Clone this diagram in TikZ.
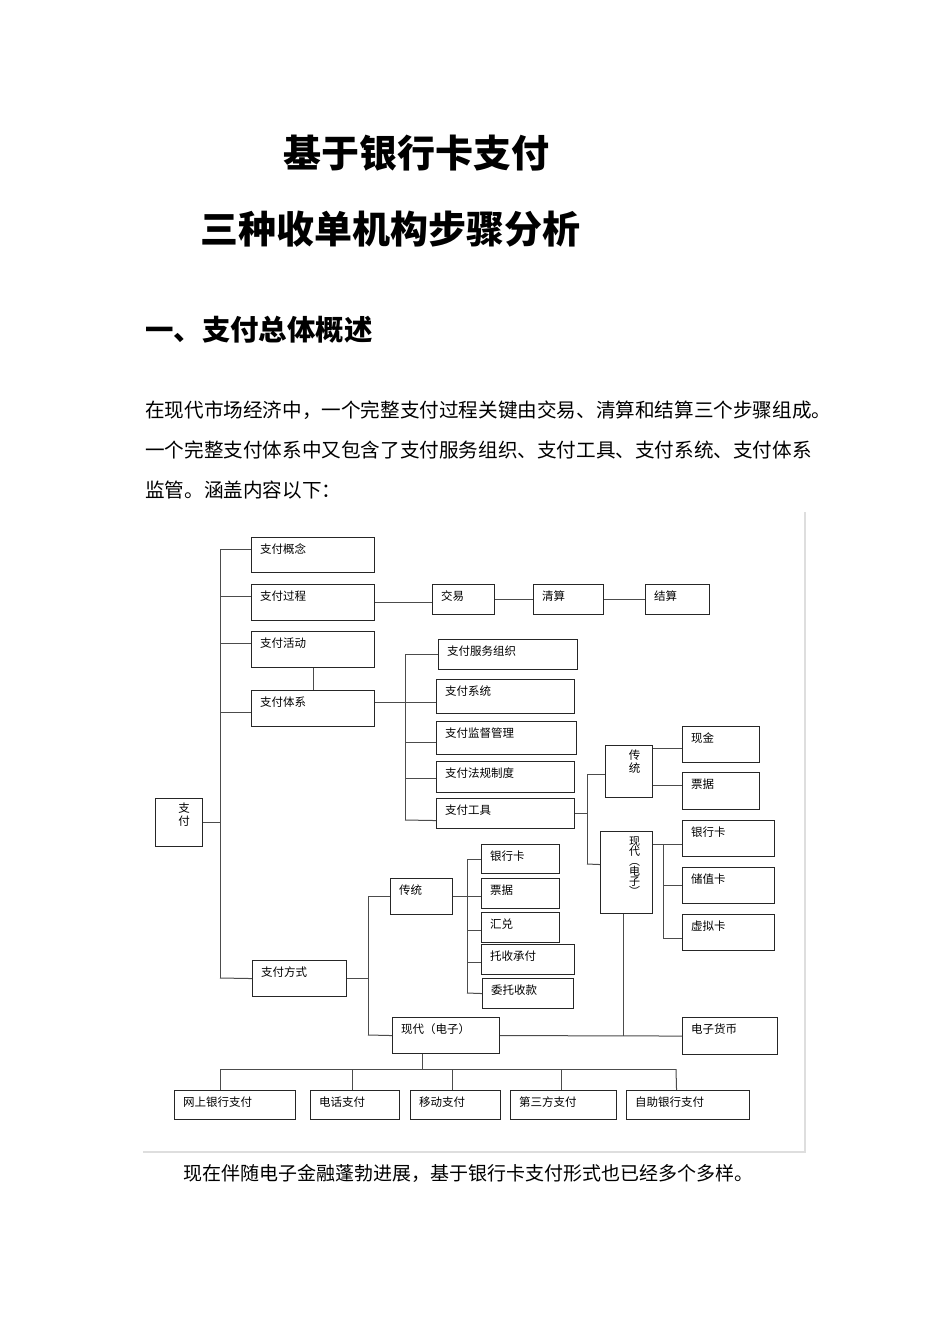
\documentclass[tikz,border=0pt]{standalone}
\usepackage{fontspec}
\setmainfont{Noto Sans CJK SC}
\usetikzlibrary{calc}

\begin{document}
\begin{tikzpicture}[x=1pt, y=-1pt,
	paybox/.style={draw=black!85, line width=1.1pt, anchor=north west, inner sep=0pt},
	boxtext/.style={anchor=west, xshift=9pt, yshift=-12pt, inner sep=0pt, font=\fontsize{11.5}{12.5}\selectfont},
	boxlabel/.style={label={[boxtext]north west:#1}},
	vtext/.style={anchor=north, inner sep=0pt, align=center, font={\fontsize{11.5}{12.5}\selectfont\lineskiplimit=-20pt}},
	link/.style={draw=black!70, line width=1pt},
	titletext/.style={anchor=west, inner sep=0pt, font=\fontsize{38}{40}\selectfont\bfseries},
	headtext/.style={anchor=west, inner sep=0pt, font=\fontsize{28.4}{30}\selectfont\bfseries},
	bodytext/.style={anchor=west, inner sep=0pt, font=\fontsize{19.6}{20}\selectfont}]

	% Page
	\fill[white] (0,0) rectangle (950,1344);
	\useasboundingbox (0,0) rectangle (950,1344);

	% Heading and text
	\node[titletext] (titleone) at (283,153) {基于银行卡支付};
	\node[titletext] (titletwo) at (200,229) {三种收单机构步骤分析};
	\node[headtext] (sectionone) at (145,330) {一、支付总体概述};
	\node[bodytext] (bodyone) at (145,410) {在现代市场经济中，一个完整支付过程关键由交易、清算和结算三个步骤组成。};
	\node[bodytext] (bodytwo) at (145,450) {一个完整支付体系中又包含了支付服务组织、支付工具、支付系统、支付体系};
	\node[bodytext] (bodythree) at (145,490) {监管。涵盖内容以下：};
	\node[bodytext, font=\fontsize{19}{20}\selectfont] (bodyfour) at (183,1173) {现在伴随电子金融蓬勃进展，基于银行卡支付形式也已经多个多样。};

	% Figure frame
	\draw[color=black!13, line width=1.5pt] (143,1152) -- (805,1152) -- (805,512);

	% Root
	\node[paybox, minimum width=47pt, minimum height=48pt, label={[vtext, xshift=5pt, yshift=-5pt]north:支\\付}] (zhifu) at (155,798) {};

	% First level
	\node[paybox, minimum width=123pt, minimum height=35pt, boxlabel=支付概念] (gainian) at (251,537) {};
	\node[paybox, minimum width=123pt, minimum height=36pt, boxlabel=支付过程] (guocheng) at (251,584) {};
	\node[paybox, minimum width=123pt, minimum height=36pt, boxlabel=支付活动] (huodong) at (251,631) {};
	\node[paybox, minimum width=123pt, minimum height=36pt, boxlabel=支付体系] (tixi) at (251,690) {};
	\node[paybox, minimum width=94pt, minimum height=36pt, boxlabel=支付方式] (fangshi) at (252,960) {};

	% Process chain
	\node[paybox, minimum width=62pt, minimum height=30pt, boxlabel=交易] (jiaoyi) at (432,584) {};
	\node[paybox, minimum width=70pt, minimum height=30pt, boxlabel=清算] (qingsuan) at (533,584) {};
	\node[paybox, minimum width=64pt, minimum height=30pt, boxlabel=结算] (jiesuan) at (645,584) {};

	% System parts
	\node[paybox, minimum width=139pt, minimum height=30pt, boxlabel=支付服务组织] (fuwu) at (438,639) {};
	\node[paybox, minimum width=138pt, minimum height=34pt, boxlabel=支付系统] (xitong) at (436,679) {};
	\node[paybox, minimum width=140pt, minimum height=33pt, boxlabel=支付监督管理] (jianguan) at (436,721) {};
	\node[paybox, minimum width=138pt, minimum height=31pt, boxlabel=支付法规制度] (fagui) at (436,761) {};
	\node[paybox, minimum width=138pt, minimum height=30pt, boxlabel=支付工具] (gongju) at (436,798) {};

	% Tools
	\node[paybox, minimum width=47pt, minimum height=52pt, label={[vtext, xshift=5.5pt, yshift=-5pt]north:传\\统}] (chuantongr) at (605,745) {};
	\node[paybox, minimum width=52pt, minimum height=82pt, label={[vtext, xshift=8pt, yshift=-6pt, font={\fontsize{11}{10}\selectfont\lineskiplimit=-20pt}]north:现\\代\\︵\\电\\子\\︶}] (xiandair) at (600,831) {};
	\node[paybox, minimum width=77pt, minimum height=36pt, boxlabel=现金] (xianjin) at (682,726) {};
	\node[paybox, minimum width=77pt, minimum height=37pt, boxlabel=票据] (piaojur) at (682,772) {};
	\node[paybox, minimum width=92pt, minimum height=36pt, boxlabel=银行卡] (yinhangkar) at (682,820) {};
	\node[paybox, minimum width=92pt, minimum height=36pt, boxlabel=储值卡] (chuzhika) at (682,867) {};
	\node[paybox, minimum width=92pt, minimum height=36pt, boxlabel=虚拟卡] (xunika) at (682,914) {};
	\node[paybox, minimum width=95pt, minimum height=37pt, boxlabel=电子货币] (dianzihuobi) at (682,1017) {};

	% Methods
	\node[paybox, minimum width=62pt, minimum height=36pt, boxlabel=传统] (chuantongl) at (390,878) {};
	\node[paybox, minimum width=78pt, minimum height=29pt, boxlabel=银行卡] (yinhangkal) at (481,844) {};
	\node[paybox, minimum width=78pt, minimum height=30pt, boxlabel=票据] (piaojul) at (481,878) {};
	\node[paybox, minimum width=78pt, minimum height=30pt, boxlabel=汇兑] (huidui) at (481,912) {};
	\node[paybox, minimum width=93pt, minimum height=30pt, boxlabel=托收承付] (tuoshou) at (481,944) {};
	\node[paybox, minimum width=91pt, minimum height=30pt, boxlabel=委托收款] (weituo) at (482,978) {};
	\node[paybox, minimum width=107pt, minimum height=36pt, boxlabel=现代（电子）] (xiandail) at (392,1017) {};

	% Channels
	\node[paybox, minimum width=121pt, minimum height=29pt, boxlabel=网上银行支付] (wangshang) at (174,1090) {};
	\node[paybox, minimum width=89pt, minimum height=29pt, boxlabel=电话支付] (dianhua) at (310,1090) {};
	\node[paybox, minimum width=90pt, minimum height=29pt, boxlabel=移动支付] (yidong) at (410,1090) {};
	\node[paybox, minimum width=106pt, minimum height=29pt, boxlabel=第三方支付] (disanfang) at (510,1090) {};
	\node[paybox, minimum width=123pt, minimum height=29pt, boxlabel=自助银行支付] (zizhu) at (626,1090) {};

	% Main trunk
	\coordinate (maintrunk) at (220,978);
	\draw[link] (fangshi.west) -- (maintrunk);
	\draw[link] (zhifu.east) -| (maintrunk);
	\draw[link] ([yshift=6pt]gainian.west) -| (maintrunk);
	\draw[link] ([yshift=6pt]guocheng.west) -| (maintrunk);
	\draw[link] ([yshift=6pt]huodong.west) -| (maintrunk);
	\draw[link] ([yshift=-4pt]tixi.west) -| (maintrunk);
	\draw[link] (huodong) -- (tixi);

	% Process links
	\draw[link] (guocheng.east) -- (guocheng.east -| jiaoyi.west);
	\draw[link] (jiaoyi) -- (qingsuan);
	\draw[link] (qingsuan) -- (jiesuan);

	% System links
	\coordinate (tixitrunk) at (405,820);
	\draw[link] ([yshift=6pt]tixi.east) -- ([yshift=-6pt]xitong.west);
	\draw[link] (fuwu.west) -| (tixitrunk);
	\draw[link] ([yshift=-4.5pt]jianguan.west) -| (tixitrunk);
	\draw[link] ([yshift=-1.5pt]fagui.west) -| (tixitrunk);
	\draw[link] ([yshift=-7pt]gongju.west) -- (tixitrunk);

	% Tool links
	\coordinate (gongjutrunk) at (587,864);
	\draw[link] (gongju.east) -| (gongjutrunk);
	\draw[link] ([yshift=-3pt]chuantongr.west) -| (gongjutrunk);
	\draw[link] ([yshift=8pt]xiandair.west) -- (gongjutrunk);
	\draw[link] ([yshift=-4pt]xianjin.west) -- ([yshift=-4pt]xianjin.west -| chuantongr.east);
	\draw[link] ([yshift=5.5pt]piaojur.west) -- ([yshift=5.5pt]piaojur.west -| chuantongr.east);

	\coordinate (xiandaitrunk) at (663,844);
	\draw[link] ([yshift=28pt]xiandair.east) -- ([yshift=-6pt]yinhangkar.west);
	\draw[link] (chuzhika.west) -| (xiandaitrunk);
	\draw[link] ([yshift=-6pt]xunika.west) -| (xiandaitrunk);
	\draw[link] ([xshift=-3pt]xiandair.south) -- ([xshift=-3pt]xiandair.south |- dianzihuobi.west);
	\draw[link] (xiandail.east) -- (dianzihuobi.west);

	% Method links
	\coordinate (fangshitrunk) at (368,1035);
	\draw[link] (fangshi.east) -| (fangshitrunk);
	\draw[link] (chuantongl.west) -| (fangshitrunk);
	\draw[link] (xiandail.west) -- (fangshitrunk);

	\coordinate (chuantongtrunk) at (467,993);
	\draw[link] (chuantongl.east) -- (chuantongl.east -| piaojul.west);
	\draw[link] (yinhangkal.west) -| (chuantongtrunk);
	\draw[link] ([yshift=-3pt]huidui.west) -| (chuantongtrunk);
	\draw[link] ([yshift=-3pt]tuoshou.west) -| (chuantongtrunk);
	\draw[link] (weituo.west) -- (chuantongtrunk);

	% Channel links
	\coordinate (busright) at (676,1069);
	\draw[link] ([xshift=-23.5pt]xiandail.south) -- ([xshift=-23.5pt]xiandail.south |- busright);
	\draw[link] ([xshift=-14.5pt]wangshang.north) |- (busright);
	\draw[link] ([xshift=-2.5pt]dianhua.north) |- (busright);
	\draw[link] ([xshift=-3pt]yidong.north) |- (busright);
	\draw[link] ([xshift=-2pt]disanfang.north) |- (busright);
	\draw[link] ([xshift=-11.5pt]zizhu.north) -- (busright);

\end{tikzpicture}
\end{document}
